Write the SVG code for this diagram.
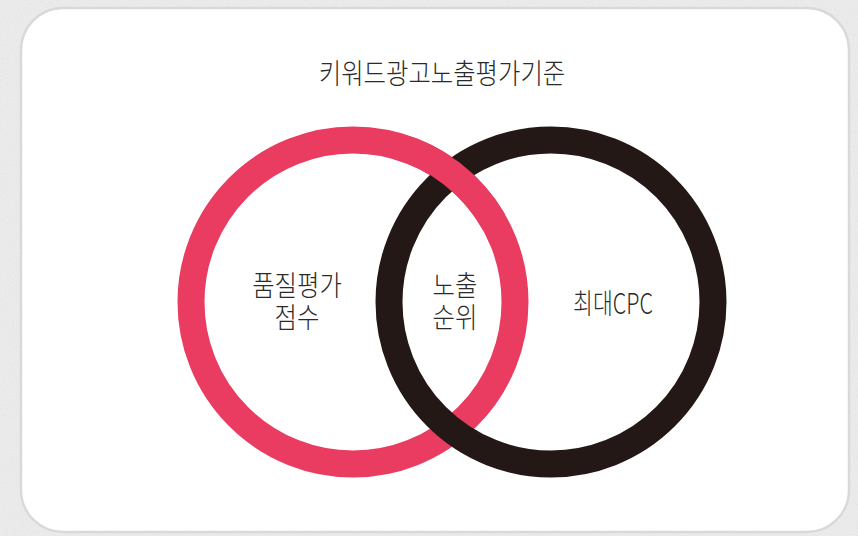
<svg xmlns="http://www.w3.org/2000/svg" width="858" height="536" viewBox="0 0 858 536">
  <defs>
    <filter id="grain" x="0" y="0" width="100%" height="100%">
      <feTurbulence type="fractalNoise" baseFrequency="0.9" numOctaves="2" seed="3" result="n"/>
      <feColorMatrix type="matrix" values="0 0 0 0 0.55  0 0 0 0 0.55  0 0 0 0 0.55  0 0 0 0.35 -0.05"/>
    </filter>
  </defs>
  <style>
    .lbl { font-family: "Noto Sans CJK KR", "Noto Sans", sans-serif; font-size: 28px; font-weight: 300; fill: #2a2a2a; text-anchor: middle; }
    .ring { fill: none; stroke-width: 27; }
    .pink { stroke: #ea3b61; }
    .dark { stroke: #231815; }
  </style>
  <rect x="0" y="0" width="858" height="536" fill="#efefef"/>
  <rect x="0" y="0" width="858" height="536" filter="url(#grain)"/>
  <g id="card">
    <rect x="21" y="8" width="828" height="524" rx="42" ry="42" fill="#ffffff" stroke="#d9d9d9" stroke-width="2.5"/>
  </g>
  <g id="title">
    <text class="lbl" transform="translate(442 84) scale(0.87 1)">키워드광고노출평가기준</text>
  </g>
  <g id="connectors">
    <circle id="ring-quality" class="ring pink" cx="353" cy="302" r="162"/>
    <circle id="ring-cpc" class="ring dark" cx="551" cy="302" r="162"/>
    <path class="ring pink" d="M394.9 145.5 A162 162 0 0 1 493.3 221"/>
  </g>
  <g id="node-quality">
    <text class="lbl" transform="translate(297 296) scale(0.87 1)"><tspan x="0" y="0">품질평가</tspan><tspan x="0" y="32">점수</tspan></text>
  </g>
  <g id="node-rank">
    <text class="lbl" transform="translate(455 296) scale(0.87 1)"><tspan x="0" y="0">노출</tspan><tspan x="0" y="32">순위</tspan></text>
  </g>
  <g id="node-cpc">
    <text class="lbl" transform="translate(613 314) scale(0.77 1)">최대CPC</text>
  </g>
</svg>
